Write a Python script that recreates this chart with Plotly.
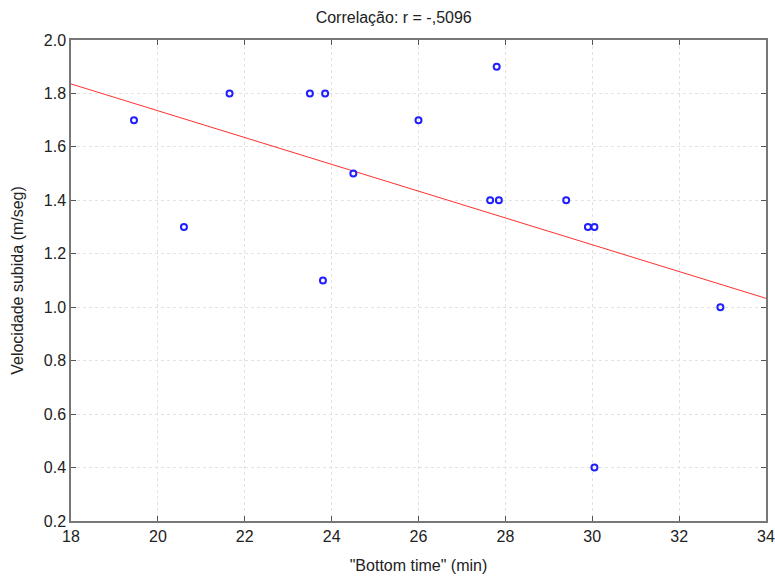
import numpy as np
import plotly.graph_objects as go

bottom_time = [19.45, 20.6, 21.65, 23.5, 23.85, 23.8, 24.5, 26.0, 27.8, 27.65, 27.85, 29.4, 29.9, 30.05, 30.05, 32.95]
velocidade = [1.7, 1.3, 1.8, 1.8, 1.8, 1.1, 1.5, 1.7, 1.9, 1.4, 1.4, 1.4, 1.3, 1.3, 0.4, 1.0]
x_ticks = [18, 20, 22, 24, 26, 28, 30, 32, 34]
y_ticks = [0.2, 0.4, 0.6, 0.8, 1.0, 1.2, 1.4, 1.6, 1.8, 2.0]

slope, intercept = np.polyfit(bottom_time, velocidade, 1)
line_x = [18, 34]
line_y = [slope * v + intercept for v in line_x]

fig = go.Figure()
fig.add_trace(go.Scatter(x=line_x, y=line_y, mode="lines",
                         line=dict(color="#ff3030", width=1), showlegend=False))
fig.add_trace(go.Scatter(x=bottom_time, y=velocidade, mode="markers",
                         marker=dict(symbol="circle-open", size=6, color="#2020ff",
                                     line=dict(width=2, color="#2020ff")),
                         showlegend=False))

font = "Liberation Sans, Arial, sans-serif"
fig.update_layout(
    width=775, height=579,
    margin=dict(l=71, r=9, t=40, b=58),
    paper_bgcolor="white", plot_bgcolor="white",
    title=dict(text="Correlação: r = -,5096", x=0.508, xanchor="center", y=0.97, yanchor="middle",
               font=dict(family=font, size=16, color="#222")),
    font=dict(family=font, color="#222"),
)
fig.update_xaxes(range=[18, 34], tickvals=x_ticks, ticktext=[str(v) for v in x_ticks],
                 showgrid=True, gridcolor="#e2e2e2", griddash="dot", gridwidth=1,
                 showline=True, linecolor="#777", linewidth=1.5, mirror="ticks",
                 ticks="inside", ticklen=5, tickcolor="#555", zeroline=False,
                 tickfont=dict(size=16, color="#222"), automargin=False,
                 title=dict(text="\"Bottom time\" (min)", font=dict(size=16, color="#222"), standoff=16))
fig.update_yaxes(range=[0.2, 2.0], tickvals=y_ticks, ticktext=[f"{v:.1f}" for v in y_ticks],
                 showgrid=True, gridcolor="#e2e2e2", griddash="dot", gridwidth=1,
                 showline=True, linecolor="#777", linewidth=1.5, mirror="ticks",
                 ticks="inside", ticklen=5, tickcolor="#555", zeroline=False,
                 tickfont=dict(size=16, color="#222"), automargin=False,
                 title=dict(text="Velocidade subida (m/seg)", font=dict(size=16, color="#222"), standoff=16))

fig.write_html("out.html")
